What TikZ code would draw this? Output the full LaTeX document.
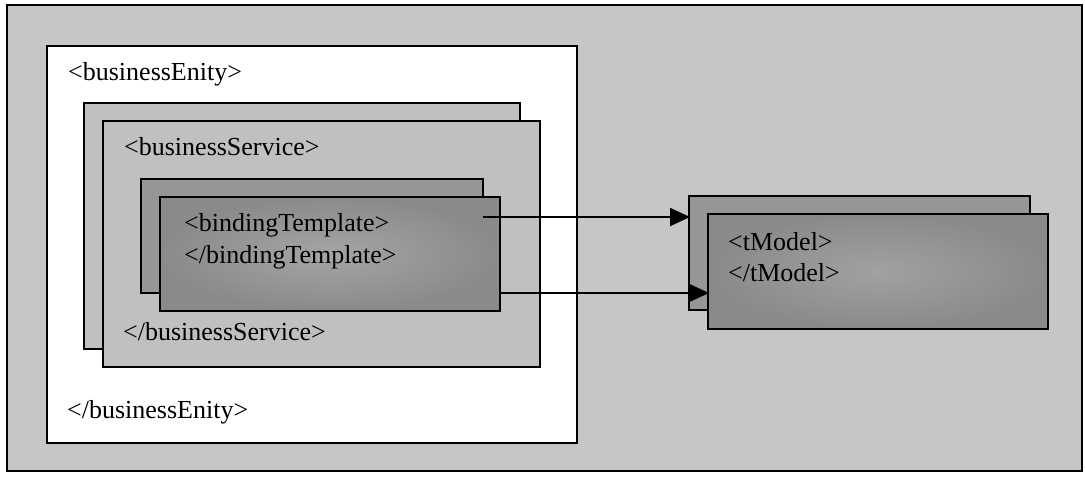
\documentclass[tikz,border=0pt]{standalone}
\usepackage{fontspec}
\setmainfont{Liberation Serif}
\usetikzlibrary{arrows.meta}
\definecolor{bgcol}{RGB}{198,198,198}
\definecolor{svccol}{RGB}{192,192,192}
\definecolor{darkback}{RGB}{150,150,150}
\definecolor{darkfront}{RGB}{138,138,138}
\definecolor{darkmid}{RGB}{165,165,165}
\tikzset{
  box/.style={draw=black, line width=2pt, anchor=north west, inner sep=0pt, outer sep=0pt},
  lbl/.style={anchor=base west, inner sep=0pt, font=\fontsize{26}{30}\selectfont},
  conn/.style={line width=2pt, -{Triangle[length=20pt,width=18pt]}, shorten >=-1pt}
}
\newcommand{\boxat}[6]{%
  \node[box, fill=#6, minimum width=#4pt-#2pt, minimum height=#5pt-#3pt] (#1) at (#2,#3) {};}
\begin{document}
\begin{tikzpicture}[x=1pt,y=-1pt]
\useasboundingbox (0,0) rectangle (1085,477);
\fill[white] (0,0) rectangle (1085,477);
\node[box, line width=1.5pt, fill=bgcol, minimum width=1075pt, minimum height=466pt] (outer) at (7,5) {};
\boxat{entity}{47}{46}{577}{443}{white}
\boxat{svcback}{84}{103}{520}{349}{svccol}
\boxat{svcfront}{103}{121}{540}{367}{svccol}
\boxat{btback}{141}{179}{483}{293}{darkback}
\node[box, inner color=darkmid, outer color=darkfront, minimum width=340pt, minimum height=114pt] (btfront) at (160,197) {};
\boxat{tmback}{689}{196}{1030}{310}{darkback}
\node[box, inner color=darkmid!85!darkfront, outer color=darkfront, minimum width=340pt, minimum height=115pt] (tmfront) at (708,214) {};
\node[lbl] (t1) at (68,80) {<businessEnity>};
\node[lbl] (t2) at (67,418) {</businessEnity>};
\node[lbl] (t3) at (124,155) {<businessService>};
\node[lbl] (t4) at (123,340) {</businessService>};
\node[lbl] (t5) at (184,231) {<bindingTemplate>};
\node[lbl] (t6) at (184,263) {</bindingTemplate>};
\node[lbl] (t7) at (728,250) {<tModel>};
\node[lbl] (t8) at (728,281) {</tModel>};
\coordinate (a1) at (0,217);
\coordinate (a2) at (0,293);
\draw[conn] (btback.east |- a1) -- (tmback.west |- a1);
\draw[conn] (btfront.east |- a2) -- (tmfront.west |- a2);
\end{tikzpicture}
\end{document}
